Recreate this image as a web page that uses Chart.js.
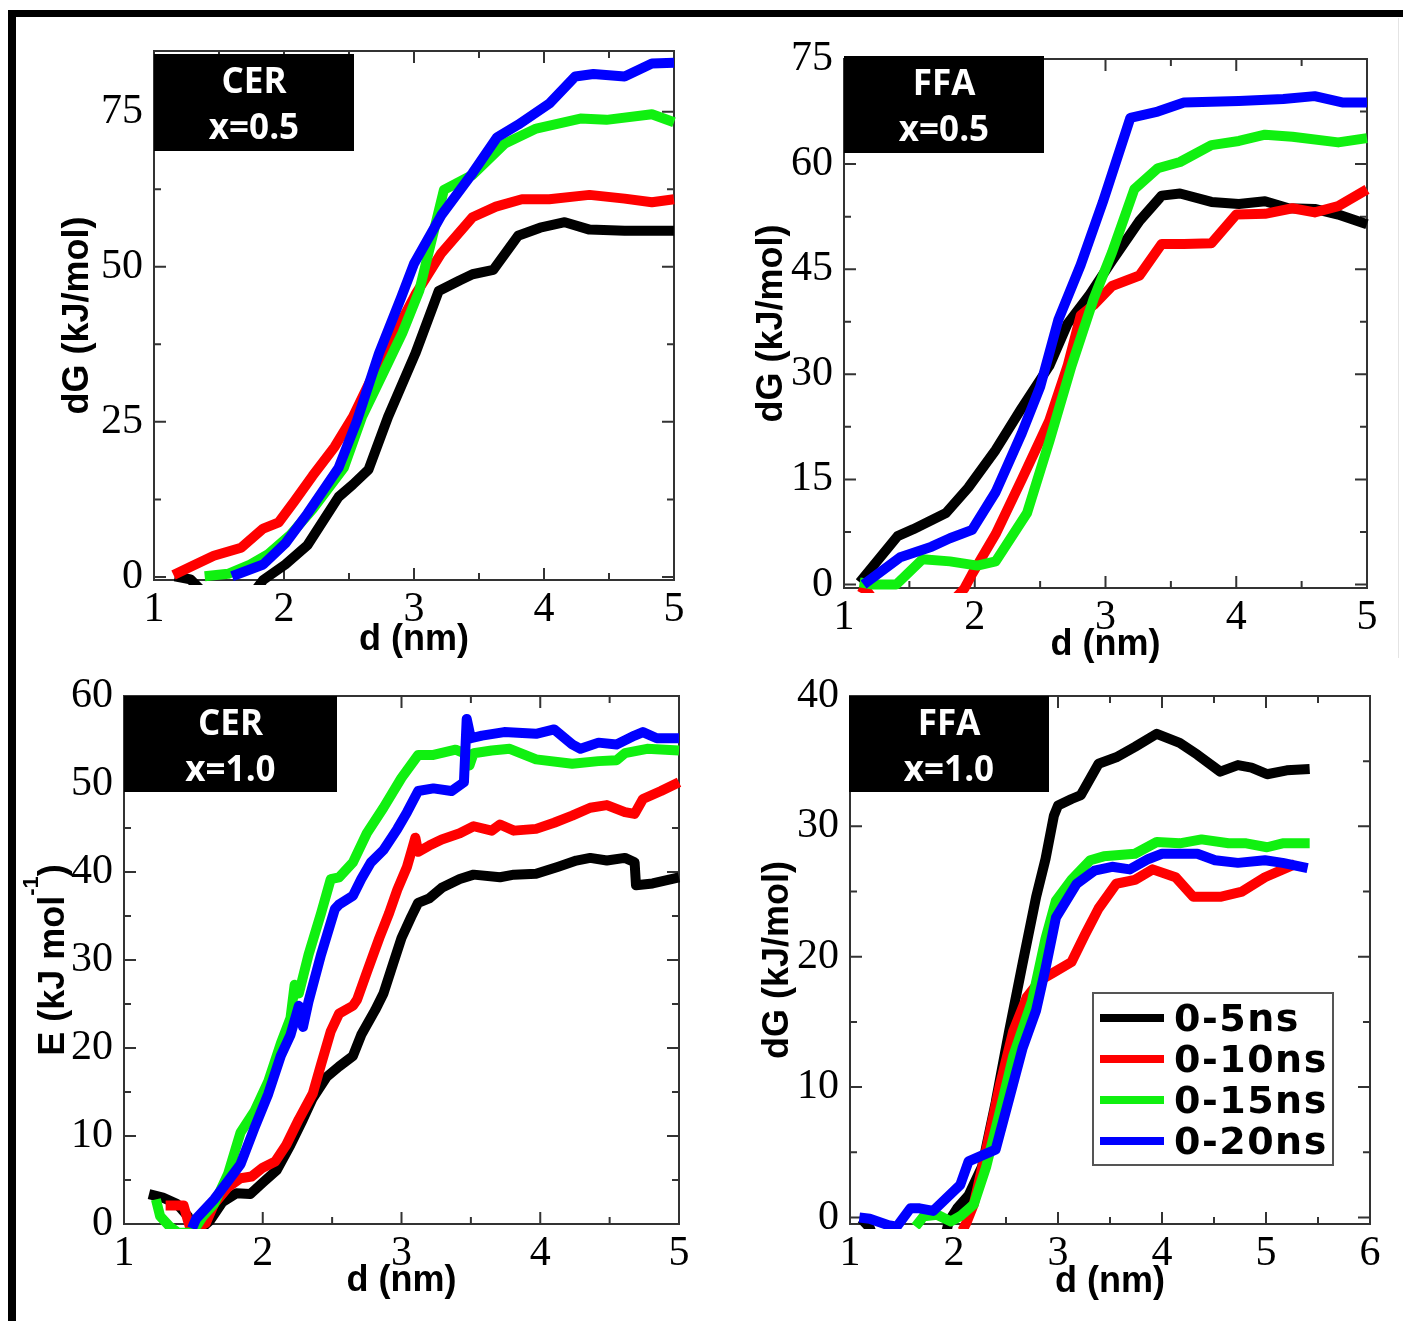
<!DOCTYPE html>
<html>
<head>
<meta charset="utf-8">
<title>dG profiles</title>
<script src="https://cdn.jsdelivr.net/npm/chart.js@4.4.1/dist/chart.umd.min.js"></script>
<style>
  html, body { margin: 0; padding: 0; background: #fff; }
  body { position: relative; width: 1403px; height: 1321px; overflow: hidden; }
  canvas { position: absolute; }
  #frame { position: absolute; left: 8px; top: 10px; width: 1420px; height: 1340px;
           border-top: 7px solid #000; border-left: 8px solid #000; }
  #edge { position: absolute; left: 1398px; top: 18px; width: 1px; height: 640px; background: #e4e4e4; }
</style>
</head>
<body>
<div id="frame"></div>
<div id="edge"></div>
<canvas id="cer05"></canvas>
<canvas id="ffa05"></canvas>
<canvas id="cer10"></canvas>
<canvas id="ffa10"></canvas>
<script>
// series (same four averaging windows in every panel)
const seriesLabels = ["0-5ns", "0-10ns", "0-15ns", "0-20ns"];
const seriesColors = ["#000000", "#ff0000", "#10f010", "#0000ff"];

// CER x=0.5  [d (nm), dG (kJ/mol)]
const cer05_5ns  = [[1.16,0.1],[1.28,-0.4],[1.45,-4],[1.75,-3],[1.84,-0.5],[2.01,2],[2.18,5.1],[2.42,12.9],[2.53,14.9],[2.65,17.3],[2.8,25.8],[3.01,36],[3.19,46.1],[3.35,47.8],[3.45,48.8],[3.61,49.5],[3.8,55],[3.97,56.3],[4.16,57.2],[4.35,56],[4.62,55.8],[5.0,55.8]];
const cer05_10ns = [[1.15,0.3],[1.29,1.7],[1.46,3.4],[1.67,4.7],[1.84,7.8],[1.96,8.8],[2.08,12.2],[2.22,16.3],[2.39,21],[2.53,25.8],[2.67,31.9],[2.84,38.7],[3.01,45.5],[3.21,52.2],[3.45,58],[3.63,59.7],[3.83,60.9],[4.04,60.9],[4.35,61.6],[4.62,61],[4.83,60.4],[5.0,60.9]];
const cer05_15ns = [[1.39,0.1],[1.57,0.5],[1.74,2],[1.88,3.7],[2.05,6.8],[2.22,10.9],[2.46,17.6],[2.6,25.8],[2.77,33.2],[2.91,39.3],[3.04,46.1],[3.23,62.4],[3.45,64.8],[3.7,69.9],[3.94,72.3],[4.28,73.9],[4.48,73.7],[4.83,74.6],[5.0,73.3]];
const cer05_20ns = [[1.6,0.1],[1.84,2],[2.01,5.4],[2.18,10.2],[2.42,17.6],[2.56,25.1],[2.73,36],[2.9,45],[3.0,50.5],[3.21,58.3],[3.45,65.1],[3.64,70.9],[3.8,72.9],[4.04,76.3],[4.24,80.7],[4.38,81.1],[4.62,80.7],[4.83,82.8],[5.0,82.9]];

// FFA x=0.5
const ffa05_5ns  = [[1.12,0.3],[1.41,6.9],[1.53,7.9],[1.78,10.2],[1.95,13.8],[2.16,19.2],[2.36,25.2],[2.57,31.2],[2.71,37.2],[2.88,41.4],[3.05,46.2],[3.26,51.9],[3.43,55.5],[3.57,55.8],[3.81,54.6],[4.02,54.3],[4.22,54.7],[4.4,53.7],[4.6,53.6],[4.78,52.8],[5.0,51.4]];
const ffa05_10ns = [[1.12,-0.3],[1.17,-0.8],[1.3,-4],[1.8,-3],[1.92,-0.6],[1.98,1.5],[2.16,7.2],[2.36,15],[2.57,23.4],[2.71,31.2],[2.81,38.4],[2.91,39.9],[3.05,42.6],[3.26,44.1],[3.43,48.6],[3.6,48.6],[3.81,48.7],[4.0,52.8],[4.22,52.9],[4.43,53.7],[4.6,53.1],[4.78,54],[5.0,56.4]];
const ffa05_15ns = [[1.12,0.3],[1.22,0],[1.4,0],[1.6,3.6],[1.81,3.3],[2.02,2.7],[2.16,3.3],[2.4,10.2],[2.57,20.4],[2.74,31.2],[2.91,40.8],[3.05,47.4],[3.22,56.4],[3.4,59.4],[3.57,60.3],[3.81,62.7],[4.02,63.3],[4.22,64.2],[4.43,63.9],[4.78,63.1],[5.0,63.7]];
const ffa05_20ns = [[1.15,0],[1.43,3.9],[1.67,5.4],[1.81,6.6],[1.98,7.8],[2.16,13.2],[2.36,21.6],[2.5,28.2],[2.64,37.8],[2.81,45.6],[2.98,54.6],[3.19,66.6],[3.4,67.5],[3.6,68.8],[4.02,69],[4.36,69.3],[4.6,69.7],[4.81,68.8],[5.0,68.8]];

// CER x=1.0  [d (nm), E (kJ/mol)]
const cer10_5ns  = [[1.18,3.4],[1.28,3.0],[1.38,2.3],[1.46,0.9],[1.49,-0.6],[1.55,-0.6],[1.62,0.4],[1.71,2.5],[1.81,3.5],[1.91,3.4],[2.0,4.7],[2.1,6.1],[2.2,9],[2.29,11.9],[2.36,14.3],[2.46,16.7],[2.55,17.9],[2.65,19.1],[2.71,21.5],[2.81,24.3],[2.87,26.2],[2.94,29.6],[3.0,32.5],[3.07,34.9],[3.12,36.5],[3.2,37],[3.29,38.2],[3.42,39.2],[3.52,39.7],[3.71,39.4],[3.81,39.7],[3.97,39.8],[4.13,40.6],[4.26,41.3],[4.36,41.6],[4.48,41.3],[4.61,41.6],[4.68,41.1],[4.69,38.5],[4.81,38.7],[5.0,39.4]];
const cer10_10ns = [[1.3,2.1],[1.43,2.1],[1.46,0.4],[1.49,-1],[1.52,-0.5],[1.59,0.1],[1.65,2.3],[1.75,4.2],[1.84,5.2],[1.92,5.4],[2.0,6.4],[2.09,7.1],[2.17,9],[2.26,11.9],[2.36,14.8],[2.42,18.1],[2.49,21.9],[2.55,23.9],[2.65,24.8],[2.68,25.5],[2.75,28.6],[2.84,32.5],[2.91,35.3],[2.97,38],[3.04,40.6],[3.08,42.8],[3.1,43.9],[3.12,42.3],[3.2,43],[3.29,43.7],[3.42,44.4],[3.52,45.2],[3.65,44.7],[3.71,45.4],[3.81,44.7],[3.97,44.9],[4.1,45.6],[4.23,46.4],[4.36,47.3],[4.48,47.6],[4.61,46.8],[4.68,46.6],[4.74,48.3],[4.87,49.2],[5.0,50.2]];
const cer10_15ns = [[1.23,2.8],[1.26,0.9],[1.33,-0.3],[1.39,-1],[1.5,-1],[1.52,-0.3],[1.57,0.9],[1.65,2.3],[1.75,5.7],[1.84,10.4],[1.94,12.8],[2.04,16.2],[2.13,20.5],[2.2,23.4],[2.23,27.2],[2.26,26.2],[2.33,30.6],[2.42,35.3],[2.49,39.2],[2.55,39.4],[2.65,41.1],[2.75,44.4],[2.87,47.3],[3.0,50.7],[3.12,53.3],[3.23,53.3],[3.39,53.9],[3.45,53.5],[3.49,52.1],[3.52,53.5],[3.65,53.8],[3.78,54],[3.97,52.8],[4.23,52.3],[4.42,52.6],[4.55,52.7],[4.61,53.5],[4.77,54],[5.0,53.8]];
const cer10_20ns = [[1.49,-0.5],[1.52,0.6],[1.65,2.8],[1.75,4.9],[1.84,6.8],[1.94,10.9],[2.04,14.8],[2.13,19.1],[2.2,21.5],[2.26,24.8],[2.29,22.4],[2.33,25.3],[2.42,30.6],[2.52,35.8],[2.55,36.3],[2.65,37.3],[2.71,39.2],[2.78,41.1],[2.87,42.5],[2.97,44.9],[3.04,46.8],[3.12,49.2],[3.23,49.5],[3.36,49.2],[3.45,50.2],[3.47,57.4],[3.5,55.2],[3.58,55.5],[3.74,55.9],[3.97,55.7],[4.1,56.2],[4.23,54.5],[4.29,54],[4.42,54.7],[4.55,54.5],[4.68,55.5],[4.74,55.9],[4.84,55.2],[5.0,55.2]];

// FFA x=1.0
const ffa10_5ns  = [[1.11,-0.1],[1.19,-0.8],[1.3,-3],[1.9,-2],[1.95,-0.3],[2.03,0.7],[2.14,1.7],[2.27,3.9],[2.4,8.8],[2.53,14.3],[2.66,19.5],[2.79,24.6],[2.88,27.5],[2.96,30.8],[3.0,31.6],[3.13,32.1],[3.22,32.4],[3.39,34.8],[3.56,35.3],[3.74,36.1],[3.95,37.1],[4.17,36.4],[4.34,35.5],[4.56,34.2],[4.73,34.7],[4.86,34.5],[5.01,34],[5.2,34.3],[5.42,34.4]];
const ffa10_10ns = [[2.08,-1],[2.12,-0.4],[2.19,1],[2.31,5.2],[2.44,10.1],[2.57,14.3],[2.7,16.9],[2.83,18.2],[2.96,18.8],[3.13,19.6],[3.26,21.7],[3.39,23.7],[3.56,25.6],[3.74,25.9],[3.91,26.7],[4.13,26.1],[4.3,24.6],[4.56,24.6],[4.77,25],[4.99,26.1],[5.28,27.1]];
const ffa10_15ns = [[1.63,-0.7],[1.71,0.1],[1.84,0.2],[1.97,-0.3],[2.06,0.1],[2.19,1],[2.31,3.9],[2.44,8.1],[2.57,12.4],[2.75,16.6],[2.88,21.4],[2.98,24.3],[3.13,25.9],[3.31,27.4],[3.44,27.7],[3.74,27.9],[3.95,28.8],[4.17,28.7],[4.38,29],[4.64,28.7],[4.81,28.7],[5.01,28.4],[5.16,28.7],[5.42,28.7]];
const ffa10_20ns = [[1.09,0],[1.19,-0.1],[1.37,-0.6],[1.45,-0.7],[1.58,0.7],[1.67,0.7],[1.8,0.5],[1.93,1.5],[2.06,2.5],[2.14,4.3],[2.31,4.9],[2.4,5.2],[2.53,9.1],[2.66,13],[2.79,15.9],[2.88,19.1],[2.98,23],[3.18,25.6],[3.35,26.6],[3.52,26.9],[3.69,26.7],[3.87,27.5],[4.0,27.9],[4.34,27.9],[4.51,27.4],[4.73,27.2],[4.99,27.4],[5.16,27.2],[5.4,26.8]];

// ticks
const xTicks5 = [1, 2, 3, 4, 5];
const xMinor5 = [1.5, 2.5, 3.5, 4.5];
const xTicks6 = [1, 2, 3, 4, 5, 6];
const xMinor6 = [1.5, 2.5, 3.5, 4.5, 5.5];
const cer05YTicks = [0, 25, 50, 75];
const cer05YMinor = [12.5, 37.5, 62.5];
const ffa05YTicks = [0, 15, 30, 45, 60, 75];
const ffa05YMinor = [7.5, 22.5, 37.5, 52.5, 67.5];
const cer10YTicks = [0, 10, 20, 30, 40, 50, 60];
const cer10YMinor = [5, 15, 25, 35, 45, 55];
const ffa10YTicks = [0, 10, 20, 30, 40];
const ffa10YMinor = [5, 15, 25, 35];

const pts = arr => arr.map(([x, y]) => ({ x, y }));
const TITLE_FAMILY = "'Liberation Sans', Arial, sans-serif";

// frame + inward ticks on all four sides (xmgrace look)
const boxFrame = {
  id: "boxFrame",
  beforeDatasetsDraw(chart, args, o) {
    const { ctx, chartArea: a, scales } = chart;
    const sx = scales.x, sy = scales.y;
    ctx.save();
    ctx.strokeStyle = "#333";
    ctx.lineWidth = 2;
    ctx.beginPath();
    const xm = (vals, len) => {
      for (const v of vals) {
        const p = sx.getPixelForValue(v);
        ctx.moveTo(p, a.bottom); ctx.lineTo(p, a.bottom - len);
        ctx.moveTo(p, a.top); ctx.lineTo(p, a.top + len);
      }
    };
    const ym = (vals, len) => {
      for (const v of vals) {
        const p = sy.getPixelForValue(v);
        ctx.moveTo(a.left, p); ctx.lineTo(a.left + len, p);
        ctx.moveTo(a.right, p); ctx.lineTo(a.right - len, p);
      }
    };
    xm(o.xMajor, 12); xm(o.xMinor, 7);
    ym(o.yMajor, 12); ym(o.yMinor, 7);
    ctx.stroke();
    ctx.strokeRect(a.left, a.top, a.right - a.left, a.bottom - a.top);
    ctx.restore();
  }
};

// black tag box in the top left corner
const tagBox = {
  id: "tagBox",
  afterDatasetsDraw(chart, args, o) {
    const { ctx, chartArea: a } = chart;
    const left = a.left + o.dx, top = a.top + o.dy;
    ctx.save();
    ctx.fillStyle = "#000";
    ctx.fillRect(left, top, o.w, o.h);
    ctx.fillStyle = "#fff";
    ctx.font = 'bold 35px "Open Sans", "Liberation Sans", sans-serif';
    ctx.textAlign = "center";
    ctx.textBaseline = "alphabetic";
    ctx.fillText(o.lines[0], left + o.w / 2, top + 39);
    ctx.fillText(o.lines[1], left + o.w / 2, top + 85);
    ctx.restore();
  }
};

// legend box inside the last panel
const seriesKey = {
  id: "seriesKey",
  afterDatasetsDraw(chart, args, o) {
    const { ctx, chartArea: a } = chart;
    const left = a.left + o.dx, top = a.top + o.dy;
    ctx.save();
    ctx.fillStyle = "#fff";
    ctx.fillRect(left, top, o.w, o.h);
    ctx.strokeStyle = "#555";
    ctx.lineWidth = 2;
    ctx.strokeRect(left, top, o.w, o.h);
    ctx.font = 'bold 38px "DejaVu Sans", sans-serif';
    ctx.letterSpacing = "1.5px";
    ctx.textAlign = "left";
    ctx.textBaseline = "alphabetic";
    chart.data.datasets.forEach((ds, i) => {
      const yy = top + 25 + i * 41;
      ctx.strokeStyle = ds.borderColor;
      ctx.lineWidth = 8;
      ctx.beginPath();
      ctx.moveTo(left + 7, yy);
      ctx.lineTo(left + 71, yy);
      ctx.stroke();
      ctx.fillStyle = "#000";
      ctx.fillText(ds.label, left + 81, yy + 13);
    });
    ctx.restore();
  }
};

// y title with a superscript (E (kJ mol-1)), Chart.js titles are plain text
const supTitle = {
  id: "supTitle",
  afterDraw(chart, args, o) {
    const { ctx, chartArea: a } = chart;
    const big = "bold 36px " + TITLE_FAMILY, small = "bold 22px " + TITLE_FAMILY;
    ctx.save();
    ctx.translate(o.baseX, (a.top + a.bottom) / 2);
    ctx.rotate(-Math.PI / 2);
    ctx.fillStyle = "#000";
    ctx.textBaseline = "alphabetic";
    ctx.textAlign = "left";
    ctx.font = big;
    const w1 = ctx.measureText(o.main).width, w3 = ctx.measureText(o.tail).width;
    ctx.font = small;
    const w2 = ctx.measureText(o.sup).width;
    let x = -(w1 + w2 + w3) / 2;
    ctx.font = big; ctx.fillText(o.main, x, 0); x += w1;
    ctx.font = small; ctx.fillText(o.sup, x, -26); x += w2;
    ctx.font = big; ctx.fillText(o.tail, x, 0);
    ctx.restore();
  }
};

function makePanel(id, p) {
  const cv = document.getElementById(id);
  cv.width = p.canvas.w;
  cv.height = p.canvas.h;
  cv.style.left = p.canvas.x + "px";
  cv.style.top = p.canvas.y + "px";

  const yW = p.plot.l - p.canvas.x;
  const xH = p.canvas.y + p.canvas.h - p.plot.b;
  const padTop = p.plot.t - p.canvas.y;
  const padRight = p.canvas.x + p.canvas.w - p.plot.r;
  const titleFont = { family: TITLE_FAMILY, size: 36, weight: "bold", lineHeight: 1 };
  const tickFont = { family: "'Liberation Serif', 'Times New Roman', serif", size: 42, lineHeight: 1 };

  const datasets = p.series.map((s, i) => ({
    label: seriesLabels[i],
    data: pts(s),
    borderColor: seriesColors[i],
    backgroundColor: seriesColors[i],
    borderWidth: 10,
    pointRadius: 0,
    tension: 0,
    fill: false,
    clip: 5,
    borderJoinStyle: "round",
    order: 3 - i
  }));

  const plain = typeof p.yTitle === "string";

  return new Chart(cv, {
    type: "line",
    data: { datasets },
    plugins: [boxFrame, tagBox, seriesKey, supTitle],
    options: {
      responsive: false,
      animation: false,
      devicePixelRatio: 1,
      layout: { padding: { left: 0, top: padTop, right: padRight, bottom: 0 } },
      plugins: {
        legend: { display: false },
        tooltip: { enabled: false },
        boxFrame: { xMajor: p.xTicks, xMinor: p.xMinor, yMajor: p.yTicks, yMinor: p.yMinor },
        tagBox: p.tag,
        seriesKey: p.key || false,
        supTitle: plain ? false : Object.assign({ baseX: p.yTitleX + 12 - p.canvas.x }, p.yTitle)
      },
      scales: {
        x: {
          type: "linear",
          min: p.xMin, max: p.xMax,
          afterBuildTicks: s => { s.ticks = p.xTicks.map(v => ({ value: v })); },
          afterFit: s => { s.height = xH; },
          grid: { display: false },
          border: { display: false },
          ticks: { font: tickFont, color: "#000", padding: 1, maxRotation: 0, autoSkip: false },
          title: {
            display: true, text: "d (nm)", color: "#000", font: titleFont,
            padding: { top: 0, bottom: p.canvas.y + p.canvas.h - p.xTitleY - 18 }
          }
        },
        y: {
          type: "linear",
          min: p.yMin, max: p.yMax,
          afterBuildTicks: s => { s.ticks = p.yTicks.map(v => ({ value: v })); },
          afterFit: s => { s.width = yW; },
          grid: { display: false },
          border: { display: false },
          ticks: { font: tickFont, color: "#000", padding: 3, autoSkip: false },
          title: {
            display: plain, text: plain ? p.yTitle : "", color: "#000", font: titleFont,
            padding: { top: p.yTitleX - p.canvas.x - 18, bottom: 0 }
          }
        }
      }
    }
  });
}

makePanel("cer05", {
  canvas: { x: 18, y: 18, w: 682, h: 662 },
  plot: { l: 154, t: 51, r: 674, b: 580 },
  yTitleX: 78, xTitleY: 640,
  xMin: 1, xMax: 5, yMin: -0.5, yMax: 84.8,
  xTicks: xTicks5, xMinor: xMinor5, yTicks: cer05YTicks, yMinor: cer05YMinor,
  yTitle: "dG (kJ/mol)",
  tag: { lines: ["CER", "x=0.5"], dx: 0, dy: 3, w: 200, h: 97 },
  series: [cer05_5ns, cer05_10ns, cer05_15ns, cer05_20ns]
});

makePanel("ffa05", {
  canvas: { x: 700, y: 18, w: 703, h: 662 },
  plot: { l: 844, t: 59, r: 1367, b: 588 },
  yTitleX: 772, xTitleY: 645,
  xMin: 1, xMax: 5, yMin: -0.5, yMax: 75,
  xTicks: xTicks5, xMinor: xMinor5, yTicks: ffa05YTicks, yMinor: ffa05YMinor,
  yTitle: "dG (kJ/mol)",
  tag: { lines: ["FFA", "x=0.5"], dx: 0, dy: -3, w: 200, h: 97 },
  series: [ffa05_5ns, ffa05_10ns, ffa05_15ns, ffa05_20ns]
});

makePanel("cer10", {
  canvas: { x: 18, y: 660, w: 682, h: 661 },
  plot: { l: 124, t: 696, r: 679, b: 1224 },
  yTitleX: 52, xTitleY: 1281,
  xMin: 1, xMax: 5, yMin: 0, yMax: 60,
  xTicks: xTicks5, xMinor: xMinor5, yTicks: cer10YTicks, yMinor: cer10YMinor,
  yTitle: { main: "E (kJ mol", sup: "-1", tail: ")" },
  tag: { lines: ["CER", "x=1.0"], dx: 0, dy: 0, w: 213, h: 96 },
  series: [cer10_5ns, cer10_10ns, cer10_15ns, cer10_20ns]
});

makePanel("ffa10", {
  canvas: { x: 700, y: 660, w: 703, h: 661 },
  plot: { l: 850, t: 696, r: 1370, b: 1224 },
  yTitleX: 778, xTitleY: 1282,
  xMin: 1, xMax: 6, yMin: -0.5, yMax: 40,
  xTicks: xTicks6, xMinor: xMinor6, yTicks: ffa10YTicks, yMinor: ffa10YMinor,
  yTitle: "dG (kJ/mol)",
  tag: { lines: ["FFA", "x=1.0"], dx: -1, dy: 0, w: 200, h: 96 },
  key: { dx: 243, dy: 297, w: 240, h: 172 },
  series: [ffa10_5ns, ffa10_10ns, ffa10_15ns, ffa10_20ns]
});
</script>
</body>
</html>
